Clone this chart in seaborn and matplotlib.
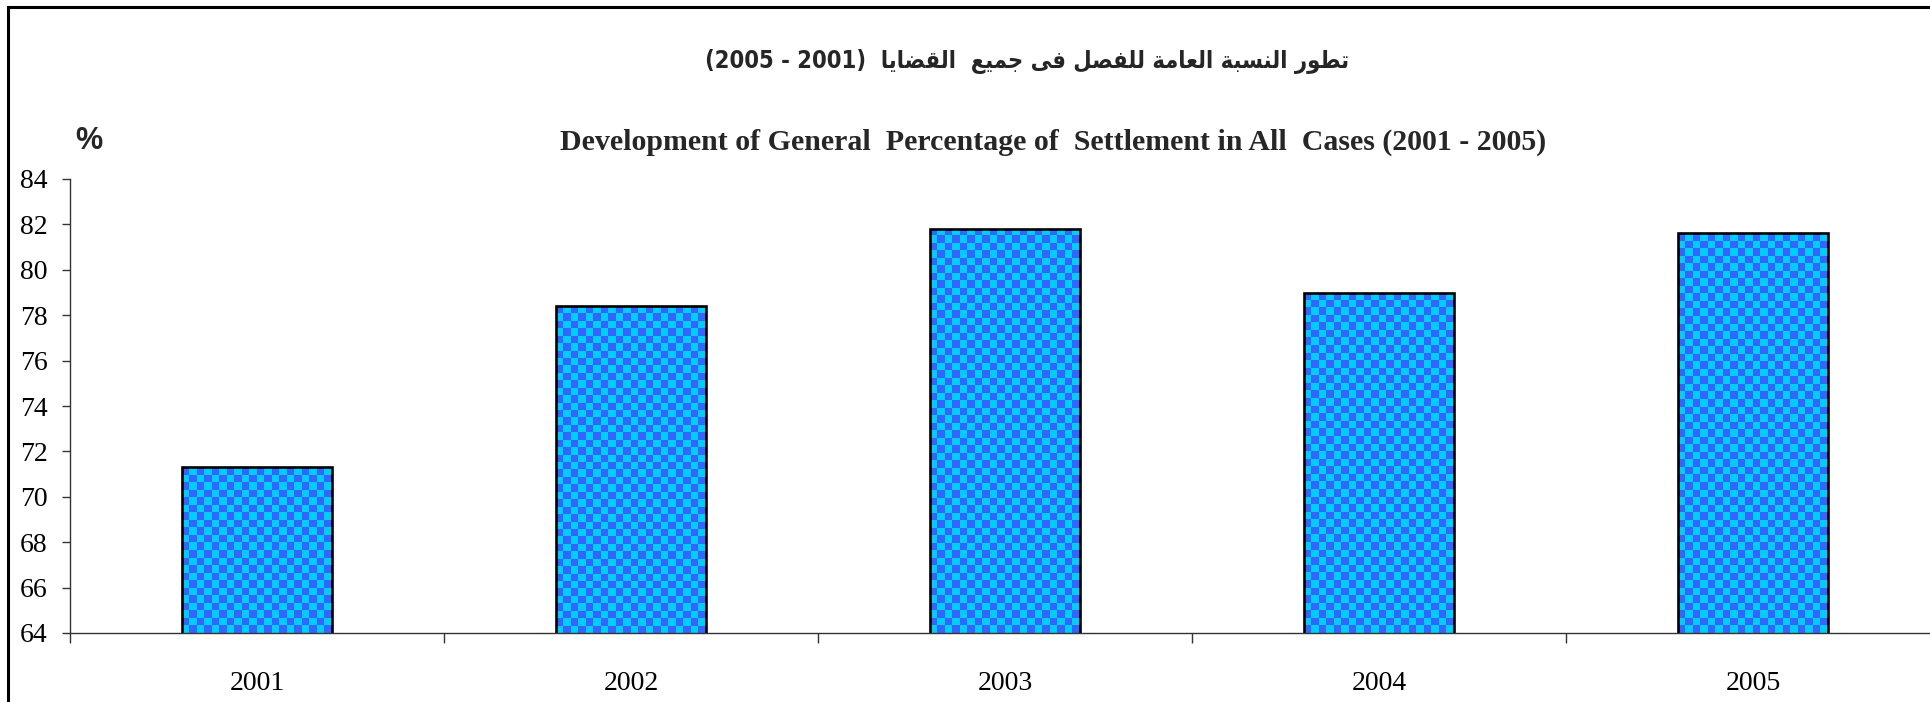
import numpy as np
import matplotlib
matplotlib.use("Agg")
import matplotlib.pyplot as plt
from matplotlib.patches import Rectangle
import seaborn as sns

# ---- data -------------------------------------------------------------
years = ["2001", "2002", "2003", "2004", "2005"]
settlement_pct = [71.3, 78.4, 81.8, 79.0, 81.6]
y_ticks = [64, 66, 68, 70, 72, 74, 76, 78, 80, 82, 84]

title_ar = "تطور النسبة العامة للفصل فى جميع  القضايا"
title_years = ("2001", "2005")
title_en = "Development of General  Percentage of  Settlement in All  Cases (2001 - 2005)"
unit_label = "%"

# ---- minimal Arabic shaping (contextual forms + visual order) ---------
FORMS = {
    "ا": ("\uFE8D", "\uFE8E", None, None),
    "ب": ("\uFE8F", "\uFE90", "\uFE91", "\uFE92"),
    "ة": ("\uFE93", "\uFE94", None, None),
    "ت": ("\uFE95", "\uFE96", "\uFE97", "\uFE98"),
    "ج": ("\uFE9D", "\uFE9E", "\uFE9F", "\uFEA0"),
    "ر": ("\uFEAD", "\uFEAE", None, None),
    "س": ("\uFEB1", "\uFEB2", "\uFEB3", "\uFEB4"),
    "ص": ("\uFEB9", "\uFEBA", "\uFEBB", "\uFEBC"),
    "ض": ("\uFEBD", "\uFEBE", "\uFEBF", "\uFEC0"),
    "ط": ("\uFEC1", "\uFEC2", "\uFEC3", "\uFEC4"),
    "ع": ("\uFEC9", "\uFECA", "\uFECB", "\uFECC"),
    "ف": ("\uFED1", "\uFED2", "\uFED3", "\uFED4"),
    "ق": ("\uFED5", "\uFED6", "\uFED7", "\uFED8"),
    "ل": ("\uFEDD", "\uFEDE", "\uFEDF", "\uFEE0"),
    "م": ("\uFEE1", "\uFEE2", "\uFEE3", "\uFEE4"),
    "ن": ("\uFEE5", "\uFEE6", "\uFEE7", "\uFEE8"),
    "و": ("\uFEED", "\uFEEE", None, None),
    "ى": ("\uFEEF", "\uFEF0", None, None),
    "ي": ("\uFEF1", "\uFEF2", "\uFEF3", "\uFEF4"),
}


def shape_rtl(text):
    out = []
    n = len(text)
    for i, ch in enumerate(text):
        if ch not in FORMS:
            out.append(ch)
            continue
        prev = text[i - 1] if i > 0 else ""
        nxt = text[i + 1] if i + 1 < n else ""
        joins_prev = prev in FORMS and FORMS[prev][2] is not None
        joins_next = FORMS[ch][2] is not None and nxt in FORMS
        iso, fin, ini, med = FORMS[ch]
        if joins_prev and joins_next:
            out.append(med)
        elif joins_prev:
            out.append(fin)
        elif joins_next:
            out.append(ini)
        else:
            out.append(iso)
    return "".join(out)[::-1]


# ---- figure -----------------------------------------------------------
W, H, DPI = 1930, 702, 100
sns.set_theme(style="white")
plt.rcParams["font.family"] = ["Liberation Serif", "DejaVu Sans"]

fig = plt.figure(figsize=(W / DPI, H / DPI), dpi=DPI, facecolor="white")
ax = fig.add_axes([70 / W, 69 / H, 1870 / W, 454 / H])

sns.barplot(x=years, y=settlement_pct, color="#00CCFF", saturation=1,
            width=0.4, edgecolor="black", linewidth=1.9, ax=ax)

ax.set_ylim(y_ticks[0], y_ticks[-1])
ax.set_xlim(-0.5, len(years) - 0.5)
ax.set_yticks(y_ticks)
ax.set_yticklabels([str(t) for t in y_ticks], fontsize=20)
ax.set_xlabel("")
ax.set_ylabel("")

# category boundaries carry the ticks, centres carry the labels
ax.set_xticks(np.arange(len(years) + 1) - 0.5)
ax.set_xticklabels([])
ax.set_xticks(np.arange(len(years)), minor=True)
ax.set_xticklabels(years, minor=True, fontsize=20)
ax.tick_params(axis="x", which="major", direction="out", length=7,
               width=1, color="#333333", bottom=True)
ax.tick_params(axis="x", which="minor", length=0, pad=27, labelcolor="black")
ax.tick_params(axis="y", direction="out", length=6, width=1,
               color="#333333", left=True, pad=10, labelcolor="black")

for side in ("top", "right"):
    ax.spines[side].set_visible(False)
for side in ("left", "bottom"):
    ax.spines[side].set_color("#333333")
    ax.spines[side].set_linewidth(1.0)

# checkerboard fill for every bar, clipped to the bar outline
fig.canvas.draw()
sq = 7.5  # checker square size in pixels
cmap = matplotlib.colors.ListedColormap(["#3366FF", "#00CCFF"])
for patch in list(ax.patches):
    x0, y0 = patch.get_x(), patch.get_y()
    w, h = patch.get_width(), patch.get_height()
    ylo = max(y0, y_ticks[0])
    yhi = y0 + h
    (px0, py0) = ax.transData.transform((x0, ylo))
    (px1, py1) = ax.transData.transform((x0 + w, yhi))
    nx = max(1, int(round((px1 - px0) / sq)))
    ny = max(1, int(round((py1 - py0) / sq)))
    checker = (np.add.outer(np.arange(ny), np.arange(nx)) % 2).astype(float)
    img = ax.imshow(checker, cmap=cmap, extent=(x0, x0 + w, ylo, yhi),
                    origin="upper", aspect="auto", interpolation="nearest",
                    zorder=patch.get_zorder() - 0.05, vmin=0, vmax=1)
    img.set_clip_path(patch)
    patch.set_facecolor("none")

ax.set_xlim(-0.5, len(years) - 0.5)
ax.set_ylim(y_ticks[0], y_ticks[-1])

# titles
title_visual = f"({title_years[1]} - {title_years[0]})  " + shape_rtl(title_ar)
fig.text(1027 / W, 1 - 62 / H, title_visual, ha="center", va="center",
         fontsize=17, fontweight="bold", fontstretch="condensed",
         family=["DejaVu Sans"])
fig.text(1053 / W, 1 - 142 / H, title_en, ha="center", va="center",
         fontsize=21.5, fontweight="bold", family=["Liberation Serif"])
fig.text(89 / W, 1 - 141 / H, unit_label, ha="center", va="center",
         fontsize=22, fontweight="bold", family=["Liberation Sans"])

# chart-area frame (left and top edges visible)
fig.patches.append(Rectangle((8 / W, -0.05), 1.1, 1 - 7 / H + 0.05,
                             transform=fig.transFigure, fill=False,
                             edgecolor="black", linewidth=2.2))

fig.savefig("out.png", dpi=DPI, facecolor="white")
